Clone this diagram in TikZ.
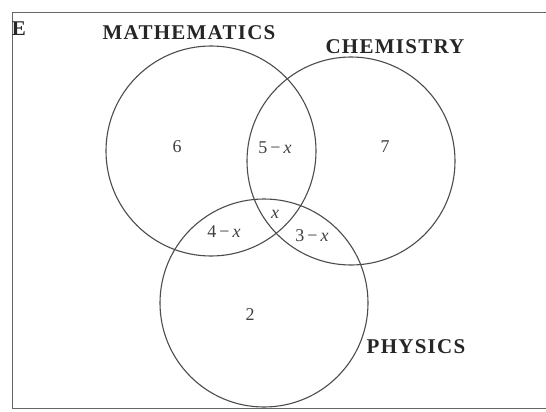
\documentclass[tikz,border=0pt]{standalone}
\usepackage{fontspec}
\setmainfont{Liberation Serif}
\newfontfamily\lblfont[LetterSpace=6]{Liberation Serif}
\begin{document}
\begin{tikzpicture}[x=1pt,y=-1pt,
  setcircle/.style={draw=black!70,line width=1.1pt},
  setlabel/.style={font=\lblfont\fontsize{21}{23}\selectfont\bfseries,text=black!85,inner sep=0pt},
  region/.style={font=\fontsize{18}{20}\selectfont,text=black!75,inner sep=0pt}]
\useasboundingbox (0,0) rectangle (546,412);
\fill[white] (0,0) rectangle (546,412);
% frame
\draw[black!60,line width=1pt] (546,13) -- (12,13) -- (12,408) -- (546,408);
% circles
\node[setcircle,circle,minimum size=210pt,inner sep=0pt] (M) at (211,151) {};
\node[setcircle,circle,minimum size=208pt,inner sep=0pt] (C) at (351,161) {};
\node[setcircle,circle,minimum size=208pt,inner sep=0pt] (P) at (264,303) {};
% labels
\node[setlabel] (E) at (19,29) {E};
\node[setlabel] (lm) at (189,33) {MATHEMATICS};
\node[setlabel] (lc) at (395,47) {CHEMISTRY};
\node[setlabel] (lp) at (416,347) {PHYSICS};
% region values
\node[region] (r6) at (177,147) {6};
\node[region] (r5) at (275,148) {5\hspace{3pt}−\hspace{3pt}\textit{x}};
\node[region] (r7) at (385,147) {7};
\node[region] (rx) at (275,214) {\textit{x}};
\node[region] (r4) at (224,232) {4\hspace{3pt}−\hspace{3pt}\textit{x}};
\node[region] (r3) at (312,236) {3\hspace{3pt}−\hspace{3pt}\textit{x}};
\node[region] (r2) at (250,315) {2};
\end{tikzpicture}
\end{document}
